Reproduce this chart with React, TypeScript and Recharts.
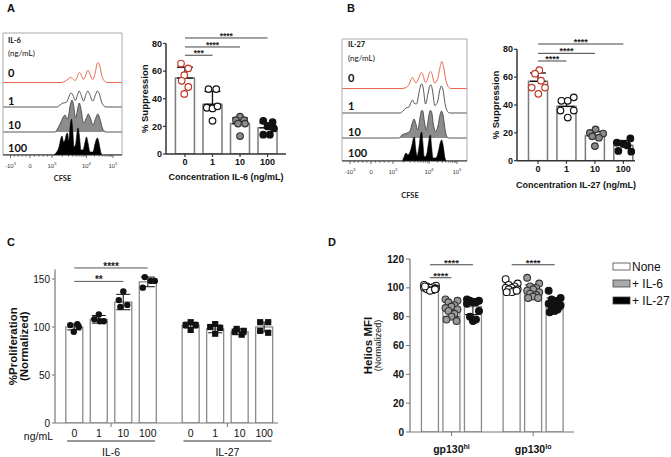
import React from "react";
import {
  ComposedChart,
  Area,
  Bar,
  Scatter,
  XAxis,
  YAxis,
  ErrorBar,
  ReferenceLine,
} from "recharts";

const ARIAL = '"Liberation Sans", Arial, Helvetica, sans-serif';
const HUM = 'Lato, "Open Sans", sans-serif';

/* ================= DATA ================= */

/* Panels A / B : CFSE histograms, [CFSE channel, events] read per row */
const histRowLabels = ["0", "1", "10", "100"];
const cfseTickLabels = ["-10^3", "0", "10^3", "10^4", "10^5"];
const cfseTicksA = [7.5, 27, 49, 83.5, 110];
const cfseTicksB = [8, 29, 51, 87, 115];

const histA_0: number[][] = [[0,0],[58,0],[61,0.8],[64,2.5],[66.5,4.5],[68,5],[69.5,4],[72,2],[74,5],[75.5,9],[76.5,10],[77.8,8.5],[80.5,3],[83,8],[84.2,11.5],[85.2,12],[86.5,9.5],[89.5,3],[92.5,11],[94,18.5],[95.2,20],[96.5,17.5],[99,6],[101.5,1.5],[104,0],[119,0]];
const histA_1: number[][] = [[0,0],[54,0],[57,2],[60,4],[63,4.5],[65.5,9],[67,13],[68.3,14],[69.8,12],[72.3,6.5],[74.8,13],[76.2,16],[77.6,13.5],[80.6,6],[83.3,13.5],[84.8,16],[86.3,13.5],[89.8,6],[92.8,13],[94.5,16],[96.2,13.5],[98.6,5],[101,1],[103,0],[119,0]];
const histA_10: number[][] = [[0,0],[52,0],[55,4],[58,10],[60.5,15.5],[62,17],[64,13],[65.5,16],[67.5,28],[69,32],[70.5,27],[72.5,14],[74.5,22],[76.2,29],[77.8,24],[80.5,9],[83,13],[85.3,18],[87.3,14],[90,7],[92.8,14],[94.8,18],[96.8,13.5],[99.3,4],[102,0.5],[103,0],[119,0]];
const histA_100: number[][] = [[0,0],[50,0],[53,2],[56,8],[58,17],[59,19],[60.5,13],[62,15],[63.5,21],[64.5,22],[65.7,14],[67.3,30],[68.5,36],[69.8,24],[71,8],[72.5,10],[74,22],[75,27],[76.3,20],[78,5],[80,5],[82.3,14],[83.5,18],[85,12],[87,3],[90,3],[92,11],[93.5,16],[94.5,17],[96,12],[98,2],[99.5,0],[119,0]];

const histB_0: number[][] = [[0,0],[60,0],[64,1],[67,4],[69,9],[70.5,11],[72,8.5],[74,5.5],[77,11],[78.5,15],[79.6,16],[80.8,14],[83.5,6],[86,11],[87.5,16],[88.6,17],[89.8,15],[92.5,5.5],[95.5,9],[98,21],[99.8,27],[101.5,22],[104,8],[106.5,1.5],[109,0],[125,0]];
const histB_1: number[][] = [[0,0],[58,0],[61,2],[64,5],[67,6],[69,10.5],[70.5,13],[72,10],[74.5,9],[77.3,22],[78.8,28],[79.9,29],[81.2,25],[83.5,9],[86.3,21],[87.9,27.5],[89.1,28],[90.4,23],[92.8,7.5],[95.5,11],[97.6,22],[99.2,27],[100.8,24],[103.3,8],[105.5,1.5],[108,0],[125,0]];
const histB_10: number[][] = [[0,0],[57,0],[60,3],[65,5],[68,7],[70.3,15],[72,19],[73.6,15],[75.8,8],[78,20],[79.6,27.5],[80.8,27],[82.3,17],[84.3,8],[86.5,20],[88.2,27.5],[89.5,26.5],[91.3,14],[93.5,6.5],[96,12],[98,23],[99.5,27],[101,23],[103.3,7],[105.5,0.5],[107,0],[125,0]];
const histB_100: number[][] = [[0,0],[60,0],[62,4],[64,8],[66,6],[68,9],[70,16],[71.5,23],[72.5,24],[73.5,14],[75,5],[77,14],[78.7,27],[79.7,29],[80.7,20],[82.3,4],[84.5,6],[86.5,18],[87.7,25],[88.5,26],[89.5,15],[91,3],[94,3],[96.5,10],[98.5,19],[99.7,21],[101.2,15],[103,3],[104.5,0],[125,0]];

/* Panels A / B : % suppression */
const concCats = ["0", "1", "10", "100"];

const supA_mean = [55, 36, 22, 19];
const supA_sd = [7.8, 9.3, 4, 3.5];
const supA_pts = [[65.5, 62, 57, 53, 48.5, 43.5], [47, 47, 33.5, 33, 34.5, 24], [27, 24.5, 24.5, 22, 22, 13], [24, 23, 20, 18.5, 14, 14]];
const supA_jit = [[-4, 3.3, -0.7, -3.3, 3.3, -0.7], [-4, 3.7, -5.7, 0, 5, 0], [0, -4, 4, -2, 5, 0], [-4.3, 5, 0, 6.3, -4.3, 2.3]];
const supA_sig = [
  { from: 0, to: 1, y: 71.5, label: "***" },
  { from: 0, to: 2, y: 77.5, label: "****" },
  { from: 0, to: 3, y: 84, label: "****" },
];

const supB_mean = [57, 39, 18, 11];
const supB_sd = [6, 5.3, 3, 3.5];
const supB_pts = [[65, 62.5, 57.5, 52.5, 52.5, 48], [45.5, 43, 43, 36, 36, 31], [22.5, 20, 19.5, 17.5, 16.5, 10.5], [16, 13, 12, 11, 7, 6.5]];
const supB_jit = [[1.3, -3, 3, -6.3, 7, 0.3], [7.3, -5, 1.3, -6, 7.3, 1.3], [0.7, -5, 8.3, -2.7, 4, 0], [7, -6.5, 0, 4, -5, 8]];
const supB_sig = [
  { from: 0, to: 1, y: 71.6, label: "****" },
  { from: 0, to: 2, y: 77.1, label: "****" },
  { from: 0, to: 3, y: 83.8, label: "****" },
];

/* Panel C : % proliferation */
const cGroups = ["IL-6", "IL-27"];
const cIL6Mean = [100, 108, 126, 147];
const cIL6Sd = [3, 4, 8, 5];
const cIL27Mean = [102, 98, 95, 100];
const cIL27Sd = [3, 4, 3, 5];
const cIL6Pts = [[102, 103, 100, 95], [113, 108, 106, 106], [137, 128, 123, 121], [152, 148, 148, 141]];
const cIL27Pts = [[105, 102, 102, 97], [103, 100, 99, 93], [98, 96, 95, 92], [105, 105, 96, 94]];
const cIL6Jit = [[-4, 3, 4.5, -0.5], [0, -4.5, 1, 5], [0, -4.5, 4, -3], [-3, 3, 7, -5]];
const cIL27Jit = [[0, -5, 5, 0], [0, -5, 5, 0], [-3, 4, -5, 2], [-4, 4, -4, 4]];
const cSig = [
  { from: 0, to: 2, y: 147.5, label: "**" },
  { from: 0, to: 3, y: 161.5, label: "****" },
];

/* Panel D : Helios MFI */
const dGroups = [{ base: "gp130", sup: "hi" }, { base: "gp130", sup: "lo" }];
const dConds = ["None", "+ IL-6", "+ IL-27"];
const dHiMean = [100, 85, 87];
const dHiSd = [1.5, 5, 5.5];
const dLoMean = [100, 98, 89];
const dLoSd = [2.5, 4, 4];
const dHiPts = [
  [102, 101.5, 101, 100.5, 100, 100, 99.5, 99, 98.5, 98, 101, 99],
  [92, 91, 90, 88, 87, 86, 85, 84, 82, 80, 78, 77],
  [92, 91, 91, 90, 90, 89, 84, 80, 78, 77],
];
const dLoPts = [
  [106, 103, 102, 101, 100, 100, 99, 99, 98, 97, 97, 98],
  [107, 103, 101, 100, 99, 98, 97, 96, 95, 94, 93, 93],
  [98, 93, 92, 91, 90, 89, 88, 86, 85, 84, 83],
];
const dJit = [-6, 6, -3, 3, 0, -6, 6, -3, 3, 0, -5, 5];
const dSig = [
  { from: 0, to: 1, y: 107, label: "****" },
  { from: 0, to: 2, y: 116, label: "****" },
  { from: 3.8, to: 5.8, y: 116, label: "****" },
];

/* ================= LAYOUT / STYLE ================= */
const HIST_H = 122;
const ROW_BASE = [72.5, 48, 23, 0];
const ROW_STYLE = [
  { stroke: "#e8674f", fill: "none", sw: 1 },
  { stroke: "#444", fill: "#ffffff", sw: 0.9 },
  { stroke: "#444", fill: "#8c8c8c", sw: 0.9 },
  { stroke: "#000", fill: "#000", sw: 0.6 },
];
const PT_STYLE_AB = [
  { fill: "#ffffff", stroke: "#c0392b" },
  { fill: "#ffffff", stroke: "#111" },
  { fill: "#8a8a8a", stroke: "#333" },
  { fill: "#111", stroke: "#111" },
];
const PT_STYLE_D = [
  { fill: "#ffffff", stroke: "#111" },
  { fill: "#9a9a9a", stroke: "#333" },
  { fill: "#111", stroke: "#111" },
];
const LEGEND_FILL = ["#ffffff", "#aaaaaa", "#000000"];

const toRow = (a: number[][]) => a.map(([x, h]) => ({ x, h }));

function minorTicks(m: number[]) {
  const out: number[] = [];
  for (let s = 0; s < 2; s++) {
    for (let k = 1; k < 5; k++) out.push(m[s] + ((m[s + 1] - m[s]) * k) / 5);
  }
  for (let s = 2; s < 4; s++) {
    for (let k = 2; k < 10; k++) out.push(m[s] + (m[s + 1] - m[s]) * Math.log10(k));
  }
  return out;
}

const makeHistTick = (majors: number[]) => (props: any) => {
  const { x, y, payload } = props;
  const mi = majors.findIndex((m) => Math.abs(m - payload.value) < 1e-6);
  if (mi < 0) {
    return <line x1={x} x2={x} y1={y} y2={y + 1.8} stroke="#333" strokeWidth={0.6} />;
  }
  const [base, exp] = cfseTickLabels[mi].split("^");
  return (
    <g>
      <line x1={x} x2={x} y1={y} y2={y + 3} stroke="#333" strokeWidth={0.7} />
      <text x={x} y={y + 12.5} textAnchor="middle" fontSize={5.6} fill="#333" fontFamily={HUM}>
        {base}
        {exp ? (
          <tspan dy={-2.6} fontSize={4.2}>
            {exp}
          </tspan>
        ) : null}
      </text>
    </g>
  );
};

function Histogram(props: {
  left: number; top: number; width: number; rows: number[][][]; majors: number[];
  axisH: number; labelOffset: number; labelDx: number;
}) {
  const { left, top, width, rows, majors, axisH, labelOffset, labelDx } = props;
  const minors = minorTicks(majors);
  return (
    <div style={{ position: "absolute", left: left - 1, top: top - 1 }}>
      <ComposedChart width={width + 2} height={HIST_H + 1 + axisH} margin={{ top: 1, right: 1, left: 1, bottom: 0 }}>
        <XAxis
          dataKey="x"
          type="number"
          domain={[0, width]}
          allowDataOverflow
          ticks={[...majors, ...minors]}
          interval={0}
          tickLine={false}
          tickSize={0}
          tickMargin={0}
          axisLine={{ stroke: "#222", strokeWidth: 1 }}
          tick={makeHistTick(majors)}
          height={axisH}
          label={{
            value: "CFSE",
            position: "insideBottom",
            offset: labelOffset,
            dx: labelDx,
            style: { fontSize: 7.5, fontWeight: 700, fill: "#222", fontFamily: HUM },
          }}
        />
        <YAxis type="number" domain={[0, HIST_H]} allowDataOverflow hide />
        <ReferenceLine y={HIST_H} stroke="#aaaaaa" strokeWidth={1} ifOverflow="visible" />
        <ReferenceLine x={0} stroke="#aaaaaa" strokeWidth={1} ifOverflow="visible" />
        <ReferenceLine x={width} stroke="#aaaaaa" strokeWidth={1} ifOverflow="visible" />
        {rows.map((r, i) => (
          <Area
            key={"row" + i}
            data={toRow(r)}
            dataKey={(d: any) => d.h + ROW_BASE[i]}
            baseValue={ROW_BASE[i]}
            type="monotoneX"
            stroke={ROW_STYLE[i].stroke}
            strokeWidth={ROW_STYLE[i].sw}
            fill={ROW_STYLE[i].fill}
            fillOpacity={1}
            dot={false}
            activeDot={false}
            isAnimationActive={false}
          />
        ))}
      </ComposedChart>
    </div>
  );
}

const buildPts = (vals: number[][], jit: number[][], unit: number, xs: number[]) =>
  vals.flatMap((arr, i) => arr.map((v, k) => ({ x: xs[i] + jit[i][k] / unit, y: v, g: i })));

/* bar drawn centred on the band position the library computes */
const barShape = (w: number, stroke: string, sw: number) => (s: any) => {
  const cx = s.x + s.width / 2;
  return <rect x={cx - w / 2} y={s.y} width={w} height={Math.max(s.height, 0)} fill="#ffffff" stroke={stroke} strokeWidth={sw} />;
};

function SuppressionChart(props: {
  left: number; top: number; width: number; height: number; margin: any; xAxisH: number;
  domainX: [number, number]; unit: number; mean: number[]; sd: number[]; pts: number[][]; jit: number[][];
  sig: { from: number; to: number; y: number; label: string }[]; title: string; titleOffset: number; starSize: number;
}) {
  const p = props;
  const xs = concCats.map((_, i) => i);
  const bars = concCats.map((c, i) => ({ x: i, mean: p.mean[i], err: [0, p.sd[i]] }));
  const points = buildPts(p.pts, p.jit, p.unit, xs);
  return (
    <div style={{ position: "absolute", left: p.left, top: p.top }}>
      <ComposedChart width={p.width} height={p.height} data={bars} margin={p.margin}>
        <XAxis
          dataKey="x"
          type="number"
          domain={p.domainX}
          allowDataOverflow
          ticks={xs}
          interval={0}
          tickFormatter={(v: number) => concCats[Math.round(v)]}
          tick={{ fontSize: 9, fontWeight: 700, fill: "#111" }}
          tickSize={3}
          tickMargin={2}
          tickLine={{ stroke: "#333", strokeWidth: 1.2 }}
          axisLine={{ stroke: "#333", strokeWidth: 1.5 }}
          height={p.xAxisH}
          label={{
            value: p.title,
            position: "insideBottom",
            offset: p.titleOffset,
            style: { fontSize: 9, fontWeight: 700, fill: "#111" },
          }}
        />
        <YAxis
          type="number"
          domain={[0, 80]}
          allowDataOverflow
          ticks={[0, 20, 40, 60, 80]}
          width={30}
          tick={{ fontSize: 9, fontWeight: 700, fill: "#111" }}
          tickSize={3}
          tickMargin={1}
          tickLine={{ stroke: "#333", strokeWidth: 1.2 }}
          axisLine={{ stroke: "#333", strokeWidth: 1.5 }}
          label={{
            value: "% Suppression",
            angle: -90,
            position: "insideLeft",
            offset: 9,
            style: { textAnchor: "middle", fontSize: 9.5, fontWeight: 700, fill: "#111" },
          }}
        />
        <Bar dataKey="mean" barSize={19} shape={barShape(19, "#7a7a7a", 1.5)} isAnimationActive={false}>
          <ErrorBar dataKey="err" width={8} stroke="#111" strokeWidth={1.3} direction="y" />
        </Bar>
        <Scatter
          data={points}
          dataKey="y"
          isAnimationActive={false}
          shape={(s: any) => {
            const st = PT_STYLE_AB[s.payload.g];
            return <circle cx={s.cx} cy={s.cy} r={3.3} fill={st.fill} stroke={st.stroke} strokeWidth={1.2} />;
          }}
        />
        {p.sig.map((s, i) => (
          <ReferenceLine
            key={"sig" + i}
            segment={[{ x: s.from, y: s.y }, { x: s.to, y: s.y }]}
            stroke="#444"
            strokeWidth={1}
            ifOverflow="visible"
            label={{ value: s.label, position: "top", offset: -1, style: { fontSize: p.starSize, fontWeight: 700, fill: "#222" } }}
          />
        ))}
      </ComposedChart>
    </div>
  );
}

const twoLineLabel = (lines: { text: string; dx: number; size: number; weight: number }[]) => (props: any) => {
  const vb = props.viewBox || { x: 0, y: 0, width: 0, height: 0 };
  const cy = vb.y + vb.height / 2;
  return (
    <g>
      {lines.map((l, i) => {
        const x = vb.x + l.dx;
        return (
          <text
            key={i}
            x={x}
            y={cy}
            transform={`rotate(-90 ${x} ${cy})`}
            textAnchor="middle"
            dominantBaseline="central"
            style={{ fontSize: l.size, fontWeight: l.weight, fill: "#111" }}
          >
            {l.text}
          </text>
        );
      })}
    </g>
  );
};

/* ---------- Panel C ---------- */
const C_UNIT = 24.5;
const C_GROUP_OFF = 4.75;
const cBarX = [0, 1, 2, 3, C_GROUP_OFF, C_GROUP_OFF + 1, C_GROUP_OFF + 2, C_GROUP_OFF + 3];
const cGroupX = [1.5, C_GROUP_OFF + 1.5];

const CTick = (props: any) => {
  const { x, y, payload } = props;
  const v = payload.value;
  const gi = cGroupX.findIndex((g) => Math.abs(g - v) < 1e-6);
  if (gi >= 0) {
    return (
      <g>
        <line x1={x} x2={x} y1={y} y2={y + 4} stroke="#777" strokeWidth={1} />
        <line x1={x - 44} x2={x + 44} y1={y + 18} y2={y + 18} stroke="#333" strokeWidth={1.2} />
        <text x={x} y={y + 33} textAnchor="middle" fontSize={10.5} fill="#111">
          {cGroups[gi]}
        </text>
      </g>
    );
  }
  const idx = cBarX.findIndex((b) => Math.abs(b - v) < 1e-6);
  return (
    <text x={x} y={y + 14} textAnchor="middle" fontSize={10.5} fill="#111">
      {concCats[idx % 4]}
    </text>
  );
};

function PanelC() {
  const bars = [
    ...cIL6Mean.map((m, i) => ({ x: cBarX[i], mean: m, err: [cIL6Sd[i], cIL6Sd[i]] })),
    ...cIL27Mean.map((m, i) => ({ x: cBarX[4 + i], mean: m, err: [cIL27Sd[i], cIL27Sd[i]] })),
  ];
  const p6 = buildPts(cIL6Pts, cIL6Jit, C_UNIT, cBarX.slice(0, 4)).map((d) => ({ ...d, s: 0 }));
  const p27 = buildPts(cIL27Pts, cIL27Jit, C_UNIT, cBarX.slice(4)).map((d) => ({ ...d, s: 1 }));
  return (
    <div style={{ position: "absolute", left: 0, top: 245 }}>
      <ComposedChart width={290} height={212} data={bars} margin={{ top: 24.4, right: 12, left: 5, bottom: 0 }}>
        <XAxis
          dataKey="x"
          type="number"
          domain={[-0.788, 8.314]}
          allowDataOverflow
          ticks={[...cBarX, ...cGroupX]}
          interval={0}
          tick={CTick}
          tickLine={false}
          tickSize={0}
          tickMargin={0}
          axisLine={{ stroke: "#777", strokeWidth: 1.2 }}
          height={34}
          label={{ value: "ng/mL", position: "left", offset: 2, dy: -4, style: { fontSize: 10.5, fill: "#111" } }}
        />
        <YAxis
          type="number"
          domain={[0, 160]}
          allowDataOverflow
          ticks={[0, 50, 100, 150]}
          width={50}
          tick={{ fontSize: 10, fill: "#111" }}
          tickSize={3}
          tickMargin={2}
          tickLine={{ stroke: "#777" }}
          axisLine={{ stroke: "#777", strokeWidth: 1.2 }}
          label={{
            content: twoLineLabel([
              { text: "%Proliferation", dx: 8, size: 11.5, weight: 700 },
              { text: "(Normalized)", dx: 19.5, size: 11.5, weight: 700 },
            ]),
          }}
        />
        <Bar dataKey="mean" barSize={17} shape={barShape(17, "#8a8a8a", 1.3)} isAnimationActive={false}>
          <ErrorBar dataKey="err" width={7} stroke="#222" strokeWidth={1.1} direction="y" />
        </Bar>
        <Scatter
          data={[...p6, ...p27]}
          dataKey="y"
          isAnimationActive={false}
          shape={(s: any) =>
            s.payload.s === 0 ? (
              <circle cx={s.cx} cy={s.cy} r={3.2} fill="#111" />
            ) : (
              <rect x={s.cx - 3.1} y={s.cy - 3.1} width={6.2} height={6.2} fill="#111" />
            )
          }
        />
        {cSig.map((s, i) => (
          <ReferenceLine
            key={"csig" + i}
            segment={[{ x: s.from, y: s.y }, { x: s.to, y: s.y }]}
            stroke="#555"
            strokeWidth={1}
            ifOverflow="visible"
            label={{ value: s.label, position: "top", offset: -2, style: { fontSize: 10, fontWeight: 700, fill: "#222" } }}
          />
        ))}
      </ComposedChart>
    </div>
  );
}

/* ---------- Panel D ---------- */
const D_UNIT = 21.5;
const D_GROUP_OFF = 3.8;
const dBarX = [0, 1, 2, D_GROUP_OFF, D_GROUP_OFF + 1, D_GROUP_OFF + 2];
const dGroupX = [1, D_GROUP_OFF + 1];

const DTick = (props: any) => {
  const { x, y, payload } = props;
  const gi = dGroupX.findIndex((g) => Math.abs(g - payload.value) < 1e-6);
  const g = dGroups[Math.max(gi, 0)];
  return (
    <text x={x} y={y + 17} textAnchor="middle" fontSize={10.5} fontWeight={700} fill="#111">
      {g.base}
      <tspan dy={-4} fontSize={7}>
        {g.sup}
      </tspan>
    </text>
  );
};

function PanelD() {
  const bars = [
    ...dHiMean.map((m, i) => ({ x: dBarX[i], mean: m, err: [dHiSd[i], dHiSd[i]] })),
    ...dLoMean.map((m, i) => ({ x: dBarX[3 + i], mean: m, err: [dLoSd[i], dLoSd[i]] })),
  ];
  const allPts = [...dHiPts, ...dLoPts];
  const points = allPts.flatMap((arr, b) =>
    arr.map((v, k) => ({ x: dBarX[b] + dJit[k % dJit.length] / D_UNIT, y: v, g: b % 3 }))
  );
  return (
    <div style={{ position: "absolute", left: 335, top: 235 }}>
      <ComposedChart width={336} height={222} data={bars} margin={{ top: 24, right: 97, left: 15, bottom: 0 }}>
        <XAxis
          dataKey="x"
          type="number"
          domain={[-0.93, 6.7]}
          allowDataOverflow
          ticks={dGroupX}
          interval={0}
          tick={DTick}
          tickSize={4}
          tickMargin={0}
          tickLine={{ stroke: "#777" }}
          axisLine={{ stroke: "#777", strokeWidth: 1.2 }}
          height={25}
        />
        <YAxis
          type="number"
          domain={[0, 120]}
          allowDataOverflow
          ticks={[0, 20, 40, 60, 80, 100, 120]}
          width={60}
          tick={{ fontSize: 10, fontWeight: 700, fill: "#111" }}
          tickSize={4}
          tickMargin={2}
          tickLine={{ stroke: "#777" }}
          axisLine={{ stroke: "#777", strokeWidth: 1.2 }}
          label={{
            content: twoLineLabel([
              { text: "Helios MFI", dx: 17.5, size: 11.5, weight: 700 },
              { text: "(Normalized)", dx: 28, size: 9, weight: 400 },
            ]),
          }}
        />
        <Bar dataKey="mean" barSize={17} shape={barShape(17, "#8a8a8a", 1.3)} isAnimationActive={false}>
          <ErrorBar dataKey="err" width={8} stroke="#222" strokeWidth={1.1} direction="y" />
        </Bar>
        <Scatter
          data={points}
          dataKey="y"
          isAnimationActive={false}
          shape={(s: any) => {
            const st = PT_STYLE_D[s.payload.g];
            return <circle cx={s.cx} cy={s.cy} r={3.4} fill={st.fill} stroke={st.stroke} strokeWidth={1.1} />;
          }}
        />
        {dSig.map((s, i) => (
          <ReferenceLine
            key={"dsig" + i}
            segment={[{ x: s.from, y: s.y }, { x: s.to, y: s.y }]}
            stroke="#444"
            strokeWidth={1}
            ifOverflow="visible"
            label={{ value: s.label, position: "top", offset: -1, style: { fontSize: 9.5, fontWeight: 700, fill: "#222" } }}
          />
        ))}
      </ComposedChart>
    </div>
  );
}

/* ---------- overlay text (panel letters, histogram row labels, legend) ---------- */
const panelLetters = [
  { t: "A", x: 7, y: 12 },
  { t: "B", x: 347, y: 12 },
  { t: "C", x: 7, y: 246 },
  { t: "D", x: 328, y: 246 },
];

function HistLabels(props: { x: number; header: string; ys: number[] }) {
  const { x, header, ys } = props;
  return (
    <g fontFamily={HUM} fill="#111">
      <text x={x} y={ys[0]} fontSize={7.5} fontWeight={700}>
        {header}
      </text>
      <text x={x} y={ys[1]} fontSize={8}>
        (ng/mL)
      </text>
      {histRowLabels.map((l, i) => (
        <text key={l} x={x} y={ys[2 + i]} fontSize={11} fontWeight={700}>
          {l}
        </text>
      ))}
    </g>
  );
}

export default function App() {
  return (
    <div
      style={{
        position: "absolute",
        left: 0,
        top: 0,
        width: 671,
        height: 457,
        background: "#fff",
        fontFamily: ARIAL,
        overflow: "hidden",
      }}
    >
      <Histogram
        left={3}
        top={33}
        width={119}
        rows={[histA_0, histA_1, histA_10, histA_100]}
        majors={cfseTicksA}
        axisH={30}
        labelOffset={4.5}
        labelDx={0}
      />
      <Histogram
        left={342}
        top={39}
        width={125}
        rows={[histB_0, histB_1, histB_10, histB_100]}
        majors={cfseTicksB}
        axisH={40}
        labelOffset={3.5}
        labelDx={5.5}
      />
      <SuppressionChart
        left={130}
        top={15}
        width={170}
        height={180}
        margin={{ top: 28.5, right: 14, left: 6, bottom: 5 }}
        xAxisH={36}
        domainX={[-0.69, 3.67]}
        unit={27.5}
        mean={supA_mean}
        sd={supA_sd}
        pts={supA_pts}
        jit={supA_jit}
        sig={supA_sig}
        title="Concentration IL-6 (ng/mL)"
        titleOffset={10.5}
        starSize={8.5}
      />
      <SuppressionChart
        left={480}
        top={20}
        width={170}
        height={185}
        margin={{ top: 29.3, right: 15, left: 7, bottom: 4.3 }}
        xAxisH={40}
        domainX={[-0.739, 3.41]}
        unit={28.43}
        mean={supB_mean}
        sd={supB_sd}
        pts={supB_pts}
        jit={supB_jit}
        sig={supB_sig}
        title="Concentration IL-27 (ng/mL)"
        titleOffset={13}
        starSize={9}
      />
      <PanelC />
      <PanelD />
      <svg
        width={671}
        height={457}
        style={{ position: "absolute", left: 0, top: 0, pointerEvents: "none" }}
      >
        {panelLetters.map((p) => (
          <text key={p.t} x={p.x} y={p.y} fontSize={11} fontWeight={700} fill="#111" fontFamily={ARIAL}>
            {p.t}
          </text>
        ))}
        <HistLabels x={8} header="IL-6" ys={[42.8, 56, 77, 105, 129, 152]} />
        <HistLabels x={348} header="IL-27" ys={[47, 61, 82, 110, 136, 157]} />
        {dConds.map((c, i) => (
          <g key={c}>
            <rect x={613} y={263 + i * 17} width={17} height={7} fill={LEGEND_FILL[i]} stroke="#444" strokeWidth={0.8} />
            <text x={632} y={270.5 + i * 17} fontSize={12} fill="#111" fontFamily={ARIAL}>
              {c}
            </text>
          </g>
        ))}
      </svg>
    </div>
  );
}
